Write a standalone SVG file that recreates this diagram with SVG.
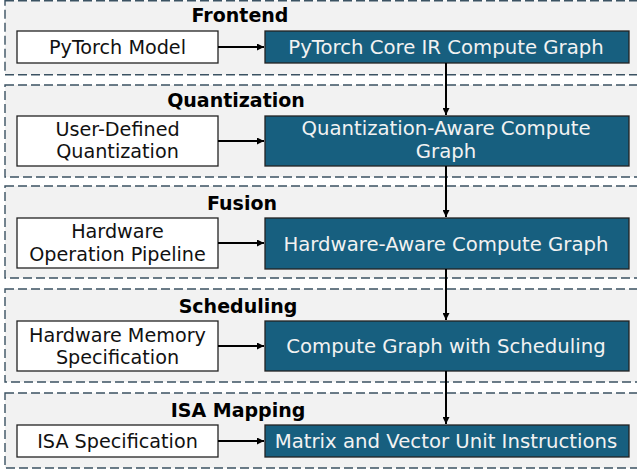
<svg xmlns="http://www.w3.org/2000/svg" width="637" height="469" viewBox="0 0 637 469">
  <defs>
    <marker id="arrow" viewBox="0 0 10 10" refX="10" refY="5" markerWidth="7" markerHeight="7" markerUnits="userSpaceOnUse" orient="auto">
      <path d="M0,0 L10,5 L0,10 Z" fill="#000"/>
    </marker>
    <style>
      .stage { fill: #f2f2f2; stroke: #3b5262; stroke-width: 1.4; stroke-dasharray: 9 4; }
      .title { font-family: "DejaVu Sans", Verdana, sans-serif; font-weight: bold; font-size: 19px; fill: #000; text-anchor: middle; }
      .input rect { fill: #ffffff; stroke: #222; stroke-width: 1.3; }
      .input text { font-family: "DejaVu Sans", Verdana, sans-serif; font-size: 19.2px; fill: #111; text-anchor: middle; }
      .graph rect { fill: #175f7f; stroke: #222; stroke-width: 1.3; }
      .graph text { font-family: "DejaVu Sans", Verdana, sans-serif; font-size: 19.7px; fill: #f2f2f2; text-anchor: middle; }
      .edge { stroke: #000; stroke-width: 2; fill: none; marker-end: url(#arrow); }
    </style>
  </defs>
  <rect width="637" height="469" fill="#ffffff"/>

  <!-- stage containers -->
  <g id="stage-frontend">
    <rect class="stage" x="5" y="0.7" width="650" height="74"/>
    <text class="title" x="240" y="22">Frontend</text>
  </g>
  <g id="stage-quantization">
    <rect class="stage" x="5" y="85" width="650" height="92"/>
    <text class="title" x="236" y="107">Quantization</text>
  </g>
  <g id="stage-fusion">
    <rect class="stage" x="5" y="186" width="650" height="92"/>
    <text class="title" x="242" y="210">Fusion</text>
  </g>
  <g id="stage-scheduling">
    <rect class="stage" x="5" y="289" width="650" height="93"/>
    <text class="title" x="238" y="313">Scheduling</text>
  </g>
  <g id="stage-isa">
    <rect class="stage" x="5" y="393" width="650" height="75"/>
    <text class="title" x="238" y="417">ISA Mapping</text>
  </g>

  <!-- inputs -->
  <g id="pytorch-model" class="input">
    <rect x="17" y="31" width="201" height="32"/>
    <text x="117.5" y="54">PyTorch Model</text>
  </g>
  <g id="user-quant" class="input">
    <rect x="17" y="116" width="201" height="50"/>
    <text x="117.5" y="136">User-Defined</text>
    <text x="117.5" y="158">Quantization</text>
  </g>
  <g id="hw-pipeline" class="input">
    <rect x="17" y="218" width="201" height="50"/>
    <text x="117.5" y="238">Hardware</text>
    <text x="117.5" y="261">Operation Pipeline</text>
  </g>
  <g id="hw-memory" class="input">
    <rect x="17" y="321" width="201" height="50"/>
    <text x="117.5" y="342">Hardware Memory</text>
    <text x="117.5" y="364">Specification</text>
  </g>
  <g id="isa-spec" class="input">
    <rect x="17" y="425" width="201" height="32"/>
    <text x="117.5" y="448">ISA Specification</text>
  </g>

  <!-- compute graphs -->
  <g id="core-ir" class="graph">
    <rect x="265" y="31" width="364" height="32"/>
    <text x="446" y="54">PyTorch Core IR Compute Graph</text>
  </g>
  <g id="quant-graph" class="graph">
    <rect x="265" y="116" width="364" height="50"/>
    <text x="446" y="135">Quantization-Aware Compute</text>
    <text x="446" y="158">Graph</text>
  </g>
  <g id="hw-graph" class="graph">
    <rect x="265" y="218" width="364" height="51"/>
    <text x="446" y="251">Hardware-Aware Compute Graph</text>
  </g>
  <g id="sched-graph" class="graph">
    <rect x="265" y="321" width="364" height="50"/>
    <text x="446" y="353">Compute Graph with Scheduling</text>
  </g>
  <g id="isa-instr" class="graph">
    <rect x="265" y="425" width="364" height="32"/>
    <text x="446" y="448">Matrix and Vector Unit Instructions</text>
  </g>

  <!-- connectors -->
  <g id="connectors">
    <line class="edge" x1="218" y1="47" x2="264" y2="47"/>
    <line class="edge" x1="218" y1="141" x2="264" y2="141"/>
    <line class="edge" x1="218" y1="243" x2="264" y2="243"/>
    <line class="edge" x1="218" y1="346" x2="264" y2="346"/>
    <line class="edge" x1="218" y1="441" x2="264" y2="441"/>
    <line class="edge" x1="446" y1="63" x2="446" y2="115"/>
    <line class="edge" x1="446" y1="166" x2="446" y2="217"/>
    <line class="edge" x1="446" y1="269" x2="446" y2="320"/>
    <line class="edge" x1="446" y1="371" x2="446" y2="424"/>
  </g>
</svg>
